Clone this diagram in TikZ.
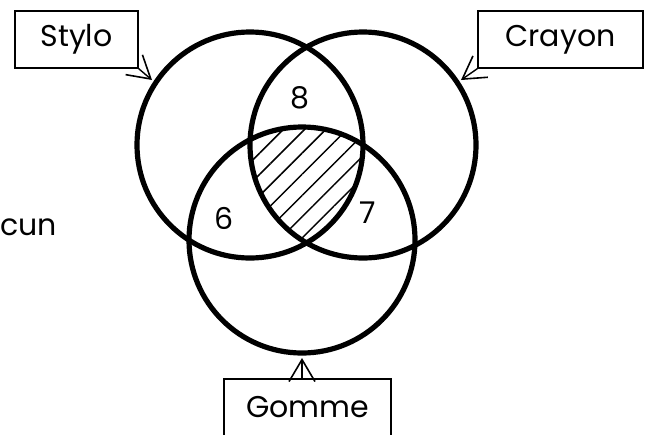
\documentclass[tikz,border=0pt]{standalone}
\usepackage{fontspec}
\setmainfont{Poppins}
\usetikzlibrary{arrows.meta,patterns.meta,calc}

\begin{document}
\begin{tikzpicture}
	[x=0.5pt,y=-0.5pt,
	set/.style={line width=2.6pt},
	tag/.style={draw,line width=0.7pt,minimum width=#1,minimum height=28.5pt,inner sep=0pt},
	pointer/.style={-{Straight Barb[length=11pt,width=13pt,line width=0.8pt]},line width=0.7pt},
	every node/.style={font=\fontsize{15}{18}\selectfont}]
	\clip (0,0) rectangle (646,434);
	\useasboundingbox (0,0) rectangle (646,434);
	% centres of the three sets
	\coordinate (s) at (250,145);
	\coordinate (c) at (363,145);
	\coordinate (g) at (302,240);
	\begin{scope}
		\clip (s) circle[radius=56.5pt];
		\clip (c) circle[radius=56.5pt];
		\fill[pattern={Lines[angle=45,distance=7.5pt,line width=0.75pt]}] (g) circle[radius=56.5pt];
	\end{scope}
	\foreach \centre in {s,c,g}
	{
		\draw[set] (\centre) circle[radius=56.5pt];
	}
	
	\node[tag=61.5pt] (stylo) at (76.5,39.5) {Stylo\hspace{8pt}};
	\node[tag=82.5pt] (crayon) at (560.5,39.5) {Crayon\hspace{8pt}};
	\node[tag=83.5pt] (gomme) at (307.5,407.5) {Gomme};
	\node (n8) at (300,98) {8};
	\node (n6) at (224,218) {6};
	\node (n7) at (368,213) {7};
	\node[anchor=base west,inner sep=0pt] (aucun) at (0,235) {cun};
	
	\coordinate (stip) at (152,80);
	\coordinate (ctip) at (461,80);
	\coordinate (gtip) at (302,358);
	\draw[pointer] (stylo.south east) -- (stip);
	\draw[pointer] (crayon.south west) -- (ctip);
	\draw[pointer] (gtip |- gomme.north) -- (gtip);
\end{tikzpicture}
\end{document}
